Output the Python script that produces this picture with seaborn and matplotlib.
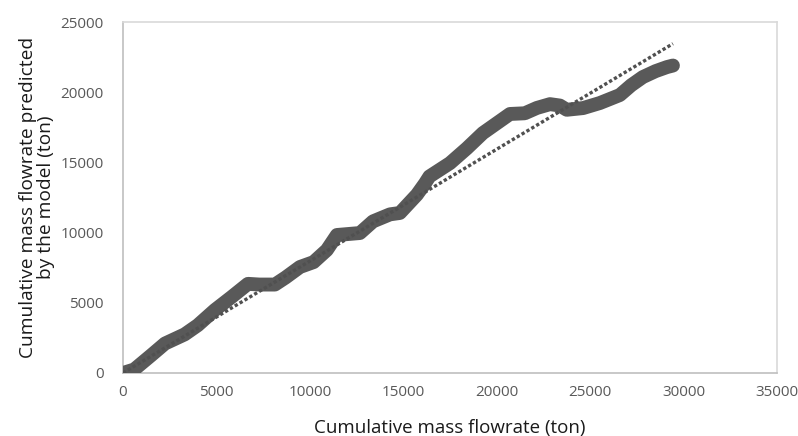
import numpy as np
import pandas as pd
import seaborn as sns
import matplotlib
matplotlib.use("Agg")
from matplotlib import pyplot as plt

# cumulative mass flowrate, measured vs predicted by the model (ton)
measured = [0, 600, 1500, 2250, 3300, 4000, 4920, 5800, 6690, 7300, 8130, 8700, 9470,
            10200, 10910, 11450, 12680, 13380, 14290, 14820, 15730, 16160, 16400,
            17500, 18400, 19260, 20710, 21500, 22150, 22850, 23380, 23750, 24620,
            25520, 26590, 27200, 27820, 28500, 29110, 29430]
predicted = [0, 250, 1250, 2100, 2750, 3400, 4490, 5400, 6350, 6300, 6300, 6800, 7550,
             7900, 8760, 9830, 9970, 10800, 11300, 11400, 12700, 13500, 14000,
             14950, 16000, 17090, 18450, 18500, 18880, 19150, 19050, 18750, 18870,
             19230, 19800, 20500, 21080, 21500, 21790, 21900]

# linear trendline
trend_slope = 0.797
trend_intercept = 0.0

df = pd.DataFrame({"measured": measured, "predicted": predicted})

sns.set_theme(style="white")
plt.rcParams['font.family'] = ['Open Sans', 'DejaVu Sans']

fig = plt.figure(figsize=(7.98, 4.36), dpi=100)
ax = fig.add_axes([0.1541, 0.1445, 0.8196, 0.805])

grey = "#595959"
sns.lineplot(data=df, x="measured", y="predicted", ax=ax, color=grey, lw=10,
             solid_capstyle="round", solid_joinstyle="round", zorder=3)

tx = np.array([0, max(measured)])
ax.plot(tx, trend_slope * tx + trend_intercept, color="#505050", lw=2.4,
        linestyle=(0, (1, 0.7)), zorder=4)

ax.set_xlim(0, 35000)
ax.set_ylim(0, 25000)
ax.set_xticks(range(0, 35001, 5000))
ax.set_yticks(range(0, 25001, 5000))
ax.tick_params(axis="both", length=0, labelsize=11, labelcolor=grey)
ax.tick_params(axis="x", pad=9)
ax.tick_params(axis="y", pad=14)

for s in ax.spines.values():
    s.set_color("#d9d9d9")
    s.set_linewidth(1.2)
ax.spines["left"].set_color("#bfbfbf")
ax.spines["bottom"].set_color("#bfbfbf")

ax.set_xlabel("Cumulative mass flowrate (ton)", fontsize=13.5, color="#1a1a1a", labelpad=13)
ax.set_ylabel("Cumulative mass flowrate predicted\nby the model (ton)", fontsize=13.8,
              color="#1a1a1a", labelpad=4, linespacing=1.0)

fig.savefig("out.png", dpi=100)
